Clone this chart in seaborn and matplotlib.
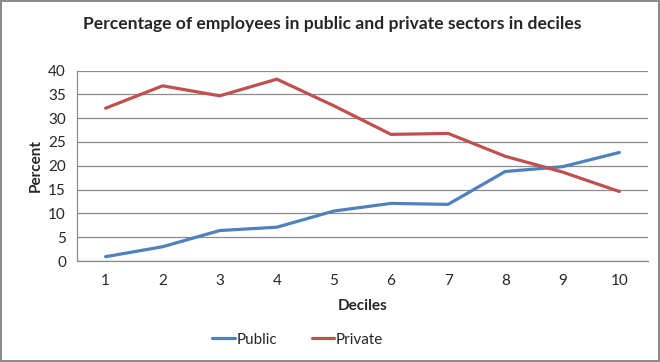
import matplotlib
matplotlib.use('Agg')
import matplotlib.pyplot as plt
import pandas as pd
import seaborn as sns

deciles = [1, 2, 3, 4, 5, 6, 7, 8, 9, 10]
public = [0.9, 3.0, 6.4, 7.1, 10.5, 12.1, 11.9, 18.8, 19.8, 22.8]
private = [32.1, 36.8, 34.7, 38.2, 32.6, 26.6, 26.8, 22.0, 18.7, 14.6]
series_names = ['Public', 'Private']
colors = ['#4F81BD', '#C0504D']
y_ticks = [0, 5, 10, 15, 20, 25, 30, 35, 40]


def main():
    df = pd.DataFrame({
        'Deciles': deciles * 2,
        'Percent': public + private,
        'Sector': [series_names[0]] * len(deciles) + [series_names[1]] * len(deciles)
    })

    sns.set_style('white')
    plt.rcParams['font.family'] = ['Lato', 'DejaVu Sans']

    fig = plt.figure(figsize=(6.6, 3.62), dpi=100)
    fig.patch.set_edgecolor('#8c8c8c')
    fig.patch.set_linewidth(1.5)
    ax = fig.add_axes([0.1167, 0.279, 0.865, 0.526])

    sns.lineplot(
        data=df,
        x='Deciles',
        y='Percent',
        hue='Sector',
        palette=colors,
        linewidth=2.3,
        ax=ax,
        legend=False
    )

    ax.set_xlim(0.5, 10.5)
    ax.set_ylim(0, 40)
    ax.set_xticks(deciles)
    ax.set_yticks(y_ticks)
    ax.yaxis.grid(True, color='#8c8c8c', linewidth=0.9)
    ax.set_axisbelow(True)
    for side in ['top', 'right']:
        ax.spines[side].set_visible(False)
    for side in ['left', 'bottom']:
        ax.spines[side].set_color('#8c8c8c')
        ax.spines[side].set_linewidth(0.9)
    ax.tick_params(axis='y', length=4, color='#8c8c8c', labelsize=11, pad=4)
    ax.tick_params(axis='x', length=0, labelsize=11, pad=9)

    ax.set_xlabel('Deciles', fontsize=11, fontweight='bold', labelpad=8)
    ax.set_ylabel('Percent', fontsize=11, fontweight='bold', labelpad=4)

    fig.text(0.503, 0.935, 'Percentage of employees in public and private sectors in deciles',
             ha='center', va='center', fontsize=12.6, fontweight='bold')

    handles = [plt.Line2D([], [], color=c, linewidth=2.3) for c in colors]
    fig.legend(handles, series_names, loc='center', bbox_to_anchor=(0.451, 0.062),
               ncol=2, frameon=False, fontsize=11, handlelength=1.45,
               handletextpad=0.1, columnspacing=2.3)

    fig.savefig('out.png', dpi=100)


if __name__ == '__main__':
    main()
